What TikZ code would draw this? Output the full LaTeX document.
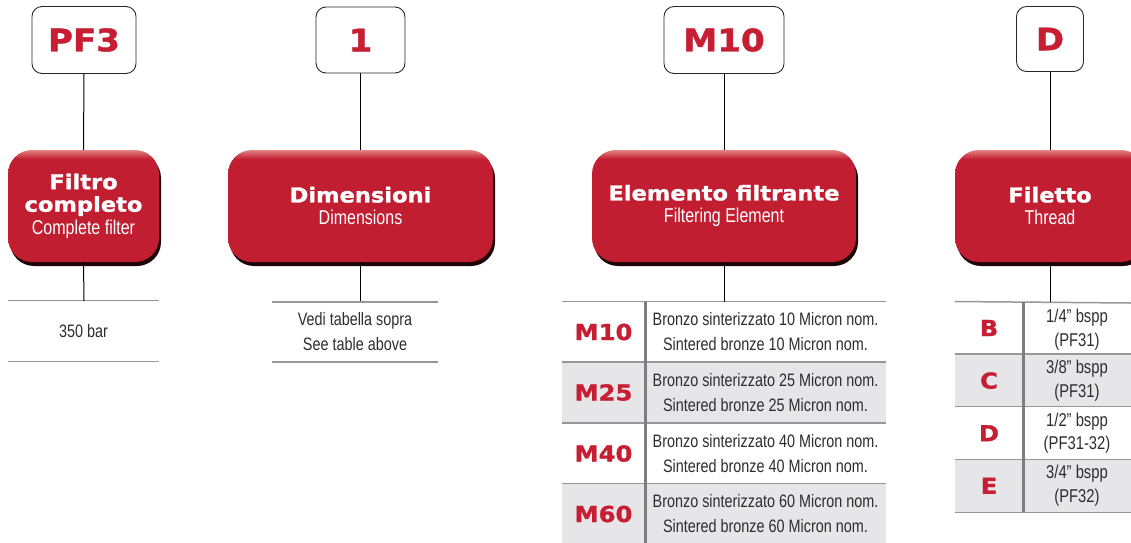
\documentclass[tikz,border=0pt]{standalone}
\usepackage{fontspec}
\setmainfont{Liberation Sans}
\newfontfamily\condfont{Liberation Sans}[FakeStretch=0.8]
\newfontfamily\heavyfont{DejaVu Sans Bold}[FakeStretch=1.1, FakeBold=1.3]
\usepackage{tikz}
\usetikzlibrary{shadows}
\definecolor{codered}{RGB}{200,30,52}
\definecolor{boxred}{RGB}{193,30,50}
\definecolor{boxlight}{RGB}{228,130,130}
\definecolor{boxshadow}{RGB}{30,6,8}
\definecolor{boxedge}{RGB}{40,40,40}
\definecolor{textdark}{RGB}{45,45,45}
\definecolor{rulegray}{RGB}{150,150,155}
\definecolor{sepgray}{RGB}{125,125,130}
\definecolor{rowgray}{RGB}{230,230,233}
\pgfdeclareverticalshading{redshade}{100bp}{color(0bp)=(boxred); color(25bp)=(boxred);
  color(71bp)=(boxred); color(75bp)=(boxlight); color(100bp)=(boxlight)}
\tikzset{
  codebox/.style={rectangle, draw=boxedge, fill=white, rounded corners=10pt,
    line width=0.9pt, inner sep=0pt, text=codered,
    font=\heavyfont\fontsize{31}{31}\selectfont},
  redbox/.style={rectangle, rounded corners=24pt, shade, shading=redshade,
    drop shadow={shadow xshift=2pt, shadow yshift=-4pt, fill=boxshadow, opacity=1},
    inner sep=0pt, text=white, align=center,
    font=\condfont\fontsize{20}{22.5}\selectfont},
  codecell/.style={rectangle, inner sep=0pt, text=codered,
    font=\heavyfont\fontsize{22}{22}\selectfont},
  desccell/.style={rectangle, inner sep=0pt, text=textdark, align=center,
    font=\condfont\fontsize{18}{25}\selectfont},
  conn/.style={line width=1pt, color=black},
  rule/.style={line width=1.5pt, color=rulegray},
  sep/.style={line width=3pt, color=sepgray}
}
\newcommand{\boxtitle}[1]{{\heavyfont\fontsize{20.5}{22.5}\selectfont #1}}
\begin{document}
\begin{tikzpicture}[x=1pt, y=-1pt]
  \useasboundingbox (0,0) rectangle (1131,542);

  % Code boxes on top
  \node[codebox, minimum width=104pt, minimum height=67pt] (cPF) at (84,40) {PF3};
  \node[codebox, minimum width=89pt, minimum height=66pt] (cDim) at (360.5,40) {1};
  \node[codebox, minimum width=120pt, minimum height=67pt] (cElem) at (724,40) {M10};
  \node[codebox, minimum width=67pt, minimum height=65pt] (cThr) at (1050,39) {D};

  % Red title boxes
  \node[redbox, minimum width=151pt, minimum height=112pt] (rPF) at (83.5,206)
    {\boxtitle{Filtro}\\\boxtitle{completo}\\Complete filter};
  \node[redbox, minimum width=265pt, minimum height=112pt] (rDim) at (360.5,206)
    {\boxtitle{Dimensioni}\\Dimensions};
  \node[redbox, minimum width=264pt, minimum height=112pt] (rElem) at (724,206)
    {\boxtitle{Elemento filtrante}\\Filtering Element};
  \node[redbox, minimum width=190pt, minimum height=112pt] (rThr) at (1050,206)
    {\boxtitle{Filetto}\\Thread};

  % Single-row tables
  \node[desccell, minimum width=151pt, minimum height=61pt] (tPF) at (83.5,331) {350 bar};
  \node[desccell, minimum width=166pt, minimum height=60pt] (tDim) at (355,332)
    {Vedi tabella sopra\\See table above};
  \draw[rule] (tPF.north west) -- (tPF.north east);
  \draw[rule] (tPF.south west) -- (tPF.south east);
  \draw[rule] (tDim.north west) -- (tDim.north east);
  \draw[rule] (tDim.south west) -- (tDim.south east);

  % Filtering element table
  \foreach \code/\num/\y/\rowfill in {M10/10/332/white, M25/25/392.5/rowgray,
      M40/40/453.5/white, M60/60/514/rowgray} {
    \node[codecell, fill=\rowfill, minimum width=83pt, minimum height=60.5pt] (e\code) at (603.5,\y) {\code};
    \node[desccell, fill=\rowfill, minimum width=241pt, minimum height=60.5pt] (d\code) at (765.5,\y)
      {Bronzo sinterizzato \num\ Micron nom.\\Sintered bronze \num\ Micron nom.};
  }
  \foreach \code in {M10,M25,M40,M60}
    \draw[rule] (e\code.north west) -- (d\code.north east);
  \draw[sep] (eM10.north east) -- (eM60.south east);

  % Thread table
  \tikzset{desccell/.append style={font=\condfont\fontsize{18.5}{23.5}\selectfont}}
  \node[codecell, minimum width=68pt, minimum height=52.6pt] (tB) at (989,328) {B};
  \node[desccell, minimum width=108pt, minimum height=52.6pt] (dB) at (1077,329.5) {1/4” bspp\\(PF31)};
  \node[codecell, fill=rowgray, minimum width=68pt, minimum height=52.6pt] (tC) at (989,380.6) {C};
  \node[desccell, fill=rowgray, minimum width=108pt, minimum height=52.6pt] (dC) at (1077,380.6) {3/8” bspp\\(PF31)};
  \node[codecell, minimum width=68pt, minimum height=52.6pt] (tD) at (989,433.2) {D};
  \node[desccell, minimum width=108pt, minimum height=52.6pt] (dD) at (1077,433.2) {1/2” bspp\\(PF31-32)};
  \node[codecell, fill=rowgray, minimum width=68pt, minimum height=52.6pt] (tE) at (989,485.8) {E};
  \node[desccell, fill=rowgray, minimum width=108pt, minimum height=52.6pt] (dE) at (1077,485.8) {3/4” bspp\\(PF32)};
  \foreach \code in {B,C,D,E}
    \draw[rule] (t\code.north west) -- (d\code.north east);
  \draw[rule] (tE.south west) -- (dE.south east);
  \draw[sep] (tB.north east) -- (tE.south east);

  % Connectors
  \coordinate (jPF) at (84,301);
  \coordinate (jDim) at (360.5,301);
  \coordinate (jElem) at (724,302);
  \coordinate (jThr) at (1050,301.7);
  \draw[conn] (cPF.south) -- (rPF.north);
  \draw[conn] (cDim.south) -- (rDim.north);
  \draw[conn] (cElem.south) -- (rElem.north);
  \draw[conn] (cThr.south) -- (rThr.north);
  \draw[conn] (rPF.south) -- (jPF);
  \draw[conn] (rDim.south) -- (jDim);
  \draw[conn] (rElem.south) -- (jElem);
  \draw[conn] (rThr.south) -- (jThr);
\end{tikzpicture}
\end{document}
